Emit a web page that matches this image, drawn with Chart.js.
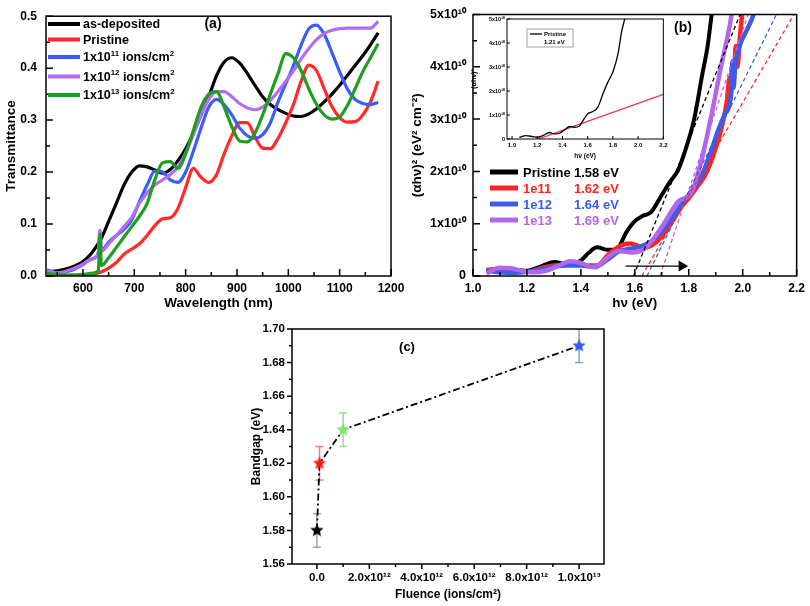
<!DOCTYPE html>
<html>
<head>
<meta charset="utf-8">
<title>Transmittance, Tauc plot and bandgap vs fluence</title>
<script src="https://cdn.jsdelivr.net/npm/chart.js@4.4.1/dist/chart.umd.min.js"></script>
<style>
  body { margin: 0; background: #fff; }
  #wrap { position: relative; width: 810px; height: 606px; overflow: hidden; background: #fff; }
  canvas { position: absolute; }
</style>
</head>
<body>
<div id="wrap">
  <canvas id="chartC" width="390" height="306" style="left:230px;top:300px"></canvas>
  <canvas id="chartA" width="410" height="315" style="left:0;top:0"></canvas>
  <canvas id="chartB" width="405" height="315" style="left:405px;top:0"></canvas>
  <canvas id="inset" width="205" height="165" style="left:465px;top:0"></canvas>
</div>
<script>
/* (a) transmittance spectra */
const wavelength = [530,550,575,600,615,630,633,636,650,665,680,695,710,725,740,755,770,785,800,815,830,845,860,875,890,905,920,935,950,965,980,995,1010,1025,1040,1055,1070,1085,1100,1115,1130,1145,1160,1175];
const asDeposited = [0.008,0.010,0.016,0.028,0.042,0.063,0.068,0.073,0.105,0.140,0.175,0.200,0.212,0.210,0.204,0.198,0.205,0.222,0.245,0.275,0.310,0.345,0.385,0.412,0.420,0.410,0.390,0.367,0.345,0.330,0.320,0.313,0.308,0.307,0.312,0.322,0.335,0.350,0.367,0.386,0.405,0.424,0.445,0.468];
const pristineT   = [0.000,0.000,0.000,0.000,0.002,0.006,0.007,0.008,0.015,0.026,0.042,0.052,0.062,0.078,0.097,0.110,0.112,0.130,0.170,0.207,0.190,0.180,0.195,0.235,0.270,0.295,0.295,0.268,0.246,0.245,0.265,0.295,0.330,0.375,0.406,0.395,0.360,0.326,0.305,0.296,0.297,0.310,0.335,0.375];
const ions1e11T   = [0.012,0.006,0.010,0.022,0.032,0.045,0.086,0.050,0.065,0.078,0.090,0.108,0.143,0.175,0.202,0.200,0.185,0.180,0.200,0.240,0.285,0.325,0.340,0.330,0.310,0.285,0.270,0.265,0.272,0.295,0.335,0.370,0.405,0.445,0.476,0.483,0.465,0.430,0.393,0.360,0.340,0.332,0.330,0.334];
const ions1e12T   = [0.010,0.006,0.012,0.023,0.032,0.043,0.088,0.048,0.062,0.078,0.095,0.113,0.140,0.160,0.175,0.185,0.195,0.210,0.237,0.272,0.310,0.340,0.355,0.355,0.345,0.332,0.324,0.320,0.325,0.338,0.355,0.375,0.395,0.418,0.438,0.455,0.467,0.473,0.476,0.477,0.477,0.477,0.477,0.490];
const ions1e13T   = [0.005,0.003,0.002,0.003,0.005,0.010,0.080,0.020,0.035,0.055,0.075,0.095,0.115,0.140,0.185,0.218,0.220,0.207,0.235,0.280,0.325,0.350,0.355,0.325,0.287,0.260,0.258,0.275,0.310,0.350,0.390,0.428,0.420,0.395,0.360,0.330,0.310,0.302,0.306,0.328,0.360,0.393,0.420,0.447];
const seriesA = ['as-deposited', 'Pristine', '1x10^{11} ions/cm^{2}', '1x10^{12} ions/cm^{2}', '1x10^{13} ions/cm^{2}'];
const xTicksA = [600, 700, 800, 900, 1000, 1100, 1200];
const yTicksA = [0, 0.1, 0.2, 0.3, 0.4, 0.5];

/* (b) Tauc plot, (alpha h nu)^2 in units of 1e10 eV^2 cm^-2 */
const pristineE = [1.05,1.10,1.15,1.20,1.25,1.30,1.35,1.40,1.43,1.46,1.50,1.53,1.57,1.60,1.63,1.66,1.70,1.73,1.76,1.79,1.82,1.85,1.87,1.885,1.90];
const pristineA = [0.10,0.15,0.12,0.10,0.18,0.27,0.22,0.30,0.45,0.55,0.50,0.50,0.85,1.05,1.15,1.22,1.55,1.80,2.02,2.45,3.00,3.85,4.40,5.00,5.50];
const f1e11E = [1.05,1.10,1.15,1.20,1.25,1.30,1.35,1.38,1.42,1.46,1.50,1.54,1.58,1.60,1.63,1.66,1.70,1.74,1.77,1.80,1.83,1.86,1.88,1.90,1.92,1.94,1.952,1.955,1.96,1.965,1.975,1.98,1.99,2.00,2.01];
const f1e11A = [0.12,0.12,0.10,0.08,0.15,0.20,0.22,0.24,0.20,0.20,0.40,0.56,0.62,0.60,0.54,0.58,0.75,1.05,1.30,1.49,1.70,1.92,2.15,2.45,2.80,3.30,3.80,3.40,4.00,3.70,4.40,4.00,4.60,5.10,5.50];
const f1e12E = [1.05,1.10,1.15,1.20,1.25,1.30,1.35,1.40,1.45,1.50,1.54,1.58,1.62,1.66,1.70,1.74,1.77,1.80,1.848,1.88,1.91,1.934,1.958,1.962,1.966,1.972,1.99,2.015,2.04,2.05];
const f1e12A = [0.10,0.07,0.06,0.08,0.12,0.18,0.20,0.20,0.17,0.32,0.47,0.52,0.56,0.66,0.85,1.12,1.35,1.55,1.92,2.35,2.80,3.10,3.55,4.10,3.60,4.00,4.42,4.70,5.00,5.20];
const f1e13E = [1.05,1.10,1.14,1.18,1.22,1.27,1.32,1.36,1.40,1.44,1.47,1.50,1.54,1.59,1.63,1.66,1.69,1.72,1.76,1.81,1.848,1.885,1.921,1.952,1.965];
const f1e13A = [0.05,0.16,0.15,0.10,0.07,0.10,0.20,0.28,0.25,0.17,0.22,0.36,0.48,0.45,0.50,0.65,0.86,1.10,1.42,1.60,2.23,3.10,4.04,4.79,5.20];
const seriesB = ['Pristine', '1e11', '1e12', '1e13'];
const gapLabels = ['1.58 eV', '1.62 eV', '1.64 eV', '1.69 eV'];
const fitStartE = [1.595, 1.626, 1.645, 1.693];   // intercepts at y = 0
const fitEndE   = [1.99, 2.19, 2.125, 2.02];      // where the fit reaches y = 5
const arrowE = [1.566, 1.774];
const arrowY = 0.19;
const xTicksB = [1.0, 1.2, 1.4, 1.6, 1.8, 2.0, 2.2];
const yTicksB = [0, 1, 2, 3, 4, 5];

/* (b) inset */
const insetE = [1.058,1.11,1.165,1.20,1.244,1.297,1.337,1.377,1.417,1.457,1.496,1.53,1.563,1.603,1.642,1.682,1.722,1.762,1.802,1.842,1.868,1.895];
const insetA = [0.07,0.14,0.10,0.07,0.14,0.27,0.21,0.24,0.38,0.52,0.49,0.52,0.77,1.06,1.15,1.34,1.90,2.39,2.82,3.59,4.44,5.03];
const insetFitE = [1.21, 2.2];
const insetFitA = [0, 1.86];

/* (c) bandgap vs fluence */
const fluence = [0, 1e11, 1e12, 1e13];
const bandgap = [1.58, 1.62, 1.64, 1.69];
const bandgapErr = [0.01, 0.01, 0.01, 0.01];
const xTicksC = [0, 2e12, 4e12, 6e12, 8e12, 1e13];
const yTicksC = [1.56, 1.58, 1.60, 1.62, 1.64, 1.66, 1.68, 1.70];

const FONT = '"Liberation Sans", Arial, Helvetica, sans-serif';
const colA = ['#000000', '#ff2a2a', '#3a5cff', '#b46cf0', '#1e9e1e'];
const colB = ['#000000', '#ff2424', '#3c5ce8', '#b466ea'];
const starCol = ['#000000', '#ff1a1a', '#7be86a', '#3a5ae8'];
const errCol = ['#9aa6b2', '#f07a92', '#90e090', '#8e9ccf'];

const SUP = { '0': '⁰', '1': '¹', '2': '²', '3': '³', '4': '⁴', '5': '⁵', '6': '⁶', '7': '⁷', '8': '⁸', '9': '⁹', '-': '⁻' };
const sup = s => String(s).split('').map(c => SUP[c]).join('');
const pts = (xs, ys) => xs.map((x, i) => ({ x, y: ys[i] }));

// text with ^{...} superscripts
function drawRich(ctx, str, x, y, size) {
  const parts = str.split(/\^\{([^}]*)\}/);
  let cx = x;
  ctx.textAlign = 'left';
  parts.forEach((p, i) => {
    const up = i % 2 === 1;
    ctx.font = `bold ${up ? size * 0.62 : size}px ${FONT}`;
    ctx.fillText(p, cx, up ? y - size * 0.36 : y);
    cx += ctx.measureText(p).width;
  });
}

function axis(o) {
  return {
    type: 'linear', min: o.min, max: o.max,
    afterBuildTicks: s => { s.ticks = o.ticks.map(v => ({ value: v })); },
    afterFit: s => { if (s.isHorizontal()) s.height = o.size; else s.width = o.size; },
    grid: { display: false, drawTicks: false },
    border: { display: false },
    ticks: {
      color: '#000', padding: o.pad, autoSkip: false, maxRotation: 0,
      font: { family: FONT, size: o.font, weight: 'bold' },
      callback: o.fmt
    },
    title: {
      display: true, text: o.title, color: '#000', padding: o.tpad,
      font: { family: FONT, size: o.tsize, weight: 'bold' }
    }
  };
}

// box around the plot area and tick marks (major + minor)
const frame = {
  id: 'frame',
  beforeDraw(chart, args, o) {
    if (!o.fill) return;
    const a = chart.chartArea, ctx = chart.ctx;
    ctx.save();
    ctx.fillStyle = o.fill;
    ctx.fillRect(a.left, a.top, a.width, a.height);
    ctx.restore();
  },
  afterDraw(chart, args, o) {
    const { ctx, chartArea: a, scales: { x, y } } = chart;
    const d = o.inward ? -1 : 1;
    const marks = (sc, step) => {
      const major = sc.ticks.map(t => t.value);
      const out = major.map(v => [v, o.major]);
      if (step) {
        for (let v = Math.ceil(sc.min / step) * step; v <= sc.max + step * 1e-6; v += step) {
          if (!major.some(m => Math.abs(m - v) < step * 1e-3)) out.push([v, o.minor]);
        }
      }
      return out;
    };
    ctx.save();
    ctx.strokeStyle = '#000';
    ctx.lineWidth = o.lw;
    ctx.beginPath();
    marks(x, o.minorX).forEach(([v, len]) => {
      const px = x.getPixelForValue(v);
      ctx.moveTo(px, a.bottom); ctx.lineTo(px, a.bottom + d * len);
    });
    marks(y, o.minorY).forEach(([v, len]) => {
      const py = y.getPixelForValue(v);
      ctx.moveTo(a.left, py); ctx.lineTo(a.left - d * len, py);
    });
    ctx.stroke();
    ctx.strokeRect(a.left, a.top, a.width, a.height);
    ctx.restore();
  }
};

const common = {
  responsive: false,
  animation: false,
  events: [],
  elements: { point: { radius: 0 }, line: { cubicInterpolationMode: 'monotone' } }
};

/* ---------- (a) ---------- */
const tSeries = [asDeposited, pristineT, ions1e11T, ions1e12T, ions1e13T];
const legendA = {
  id: 'legendA',
  afterDraw(chart) {
    const ctx = chart.ctx;
    const rows = [24, 39.5, 57, 76.5, 95];
    ctx.save();
    ctx.textBaseline = 'middle';
    chart.data.datasets.forEach((ds, i) => {
      ctx.strokeStyle = ds.borderColor;
      ctx.lineWidth = 4;
      ctx.beginPath(); ctx.moveTo(48, rows[i]); ctx.lineTo(80, rows[i]); ctx.stroke();
      ctx.fillStyle = '#000';
      drawRich(ctx, ds.label, 83, rows[i] + 1, 12.5);
    });
    ctx.font = `bold 14px ${FONT}`;
    ctx.textAlign = 'center';
    ctx.fillText('(a)', 213, 24);
    ctx.restore();
  }
};

new Chart(document.getElementById('chartA'), {
  type: 'line',
  data: {
    datasets: tSeries.map((vals, i) => ({
      label: seriesA[i],
      data: pts(wavelength, vals),
      borderColor: colA[i],
      borderWidth: 3.2,
      order: tSeries.length - i,
      clip: 0
    }))
  },
  options: {
    ...common,
    layout: { padding: { left: 0, top: 10, right: 19, bottom: 0 } },
    scales: {
      x: axis({ min: 528, max: 1200, ticks: xTicksA, size: 39, pad: 5, font: 12, fmt: v => String(v),
                title: 'Wavelength (nm)', tsize: 13.5, tpad: { top: 0, bottom: 4 } }),
      y: axis({ min: 0, max: 0.5, ticks: yTicksA, size: 46, pad: 9, font: 12, fmt: v => v.toFixed(1),
                title: 'Transmittance', tsize: 13.5, tpad: { top: 3, bottom: 0 } })
    },
    plugins: {
      legend: { display: false }, tooltip: { enabled: false },
      frame: { inward: true, lw: 1.5, major: 7, minor: 4, minorX: 50, minorY: 0.05 }
    }
  },
  plugins: [frame, legendA]
});

/* ---------- (b) ---------- */
const taucE = [pristineE, f1e11E, f1e12E, f1e13E];
const taucA = [pristineA, f1e11A, f1e12A, f1e13A];
const legendB = {
  id: 'legendB',
  afterDraw(chart) {
    const ctx = chart.ctx;
    const rows = [172, 188, 204, 220];
    ctx.save();
    ctx.textBaseline = 'middle';
    ctx.textAlign = 'left';
    ctx.font = `bold 13px ${FONT}`;
    seriesB.forEach((name, i) => {
      ctx.strokeStyle = colB[i];
      ctx.lineWidth = 5;
      ctx.beginPath(); ctx.moveTo(85, rows[i]); ctx.lineTo(113, rows[i]); ctx.stroke();
      ctx.fillStyle = colB[i];
      ctx.fillText(name, 118, rows[i] + 1);
      ctx.fillText(gapLabels[i], 169, rows[i] + 1);
    });
    ctx.fillStyle = '#000';
    ctx.font = `bold 14px ${FONT}`;
    ctx.textAlign = 'center';
    ctx.fillText('(b)', 278, 28);
    ctx.restore();
  }
};

const bSets = taucE.map((xs, i) => ({
  label: seriesB[i],
  data: pts(xs, taucA[i]),
  borderColor: colB[i],
  borderWidth: i === 0 ? 4 : 4.5,
  order: 10 - i,
  clip: 0
}));
fitStartE.forEach((e0, i) => bSets.push({
  label: seriesB[i] + ' fit',
  data: [{ x: e0, y: 0 }, { x: fitEndE[i], y: 5 }],
  borderColor: colB[i],
  borderWidth: 1.3,
  borderDash: [4, 3],
  order: 1,
  clip: 0
}));
bSets.push({
  label: 'shift',
  data: pts(arrowE, [arrowY, arrowY]),
  borderColor: '#000',
  borderWidth: 1.3,
  pointRadius: [0, 5],
  pointStyle: 'triangle',
  pointRotation: 90,
  pointBackgroundColor: '#000',
  pointBorderColor: '#000',
  order: 0
});

new Chart(document.getElementById('chartB'), {
  type: 'line',
  data: { datasets: bSets },
  options: {
    ...common,
    layout: { padding: { left: 0, top: 9, right: 11, bottom: 0 } },
    scales: {
      x: axis({ min: 1.0, max: 2.2, ticks: xTicksB, size: 39, pad: 5, font: 12, fmt: v => v.toFixed(1),
                title: 'hν (eV)', tsize: 13.5, tpad: { top: 0, bottom: 4 } }),
      y: axis({ min: 0, max: 5, ticks: yTicksB, size: 68, pad: 7, font: 12.5,
                fmt: v => v === 0 ? '0' : v + 'x10' + sup(10),
                title: '(αhν)² (eV² cm⁻²)', tsize: 13.5, tpad: { top: 4, bottom: 0 } })
    },
    plugins: {
      legend: { display: false }, tooltip: { enabled: false },
      frame: { inward: true, lw: 1.5, major: 7, minor: 4, minorX: 0.1, minorY: 0.5 }
    }
  },
  plugins: [frame, legendB]
});

/* ---------- (b) inset ---------- */
const legendInset = {
  id: 'legendInset',
  afterDraw(chart) {
    const ctx = chart.ctx;
    ctx.save();
    ctx.strokeStyle = '#888';
    ctx.lineWidth = 0.8;
    ctx.strokeRect(62, 29, 46, 18);
    ctx.strokeStyle = '#000';
    ctx.lineWidth = 1.3;
    ctx.beginPath(); ctx.moveTo(65, 34); ctx.lineTo(77, 34); ctx.stroke();
    ctx.fillStyle = '#000';
    ctx.font = `bold 6px ${FONT}`;
    ctx.textBaseline = 'middle';
    ctx.fillText('Pristine', 79, 34);
    ctx.fillText('1.21 eV', 79, 42);
    ctx.restore();
  }
};

new Chart(document.getElementById('inset'), {
  type: 'line',
  data: {
    datasets: [
      { label: 'Pristine', data: pts(insetE, insetA), borderColor: '#000', borderWidth: 1.3, clip: 0 },
      { label: '1.21 eV', data: pts(insetFitE, insetFitA), borderColor: '#f53358', borderWidth: 1.3, clip: 0 }
    ]
  },
  options: {
    ...common,
    layout: { padding: { left: 0, top: 19, right: 6, bottom: 0 } },
    scales: {
      x: axis({ min: 0.96, max: 2.2, ticks: xTicksB, size: 26, pad: 2.5, font: 6, fmt: v => v.toFixed(1),
                title: 'hν (eV)', tsize: 6.5, tpad: { top: 0, bottom: 5 } }),
      y: axis({ min: 0, max: 5, ticks: yTicksB, size: 42, pad: 2, font: 5.5,
                fmt: v => v === 0 ? '0' : v + 'x10' + sup(10),
                title: '(αhν)²', tsize: 7, tpad: { top: 5, bottom: 0 } })
    },
    plugins: {
      legend: { display: false }, tooltip: { enabled: false },
      frame: { inward: true, lw: 1, major: 3, minor: 2, fill: '#fff' }
    }
  },
  plugins: [frame, legendInset]
});

/* ---------- (c) ---------- */
function starImg(color, r) {
  const c = document.createElement('canvas');
  c.width = c.height = 2 * r + 2;
  const g = c.getContext('2d');
  g.beginPath();
  for (let i = 0; i < 10; i++) {
    const ang = -Math.PI / 2 + i * Math.PI / 5;
    const rr = i % 2 ? r * 0.45 : r;
    g.lineTo(r + 1 + rr * Math.cos(ang), r + 1 + rr * Math.sin(ang));
  }
  g.closePath();
  g.fillStyle = color;
  g.fill();
  return c;
}

const labelC = {
  id: 'labelC',
  afterDraw(chart) {
    const ctx = chart.ctx;
    ctx.save();
    ctx.fillStyle = '#000';
    ctx.font = `bold 13px ${FONT}`;
    ctx.textAlign = 'center';
    ctx.textBaseline = 'middle';
    ctx.fillText('(c)', 177, 47);
    ctx.restore();
  }
};

const cSets = [{
  label: 'Bandgap',
  data: pts(fluence, bandgap),
  borderColor: '#000',
  borderWidth: 1.8,
  borderDash: [7, 3, 2, 3],
  cubicInterpolationMode: 'default',
  tension: 0,
  pointRadius: 6,
  pointStyle: starCol.map(c => starImg(c, 7))
}];
fluence.forEach((f, i) => cSets.push({
  label: 'err' + i,
  data: [{ x: f, y: bandgap[i] - bandgapErr[i] }, { x: f, y: bandgap[i] + bandgapErr[i] }],
  borderColor: errCol[i],
  borderWidth: 1.5,
  pointStyle: 'line',
  pointRadius: 4,
  pointBorderWidth: 1.5,
  pointBorderColor: errCol[i]
}));

new Chart(document.getElementById('chartC'), {
  type: 'line',
  data: { datasets: cSets },
  options: {
    ...common,
    layout: { padding: { left: 0, top: 29, right: 16, bottom: 0 } },
    scales: {
      x: axis({ min: -0.95e12, max: 1.095e13, ticks: xTicksC, size: 42, pad: 7, font: 11.5,
                fmt: v => {
                  if (v === 0) return '0.0';
                  const e = Math.floor(Math.log10(v) + 1e-9);
                  return (v / Math.pow(10, e)).toFixed(1) + 'x10' + sup(e);
                },
                title: 'Fluence (ions/cm²)', tsize: 12, tpad: { top: 0, bottom: 4 } }),
      y: axis({ min: 1.56, max: 1.70, ticks: yTicksC, size: 62, pad: 7, font: 11.5, fmt: v => v.toFixed(2),
                title: 'Bandgap (eV)', tsize: 12, tpad: { top: 19, bottom: 0 } })
    },
    plugins: {
      legend: { display: false }, tooltip: { enabled: false },
      frame: { inward: false, lw: 1.5, major: 5, minor: 3, minorX: 1e12, minorY: 0.01 }
    }
  },
  plugins: [frame, labelC]
});
</script>
</body>
</html>
